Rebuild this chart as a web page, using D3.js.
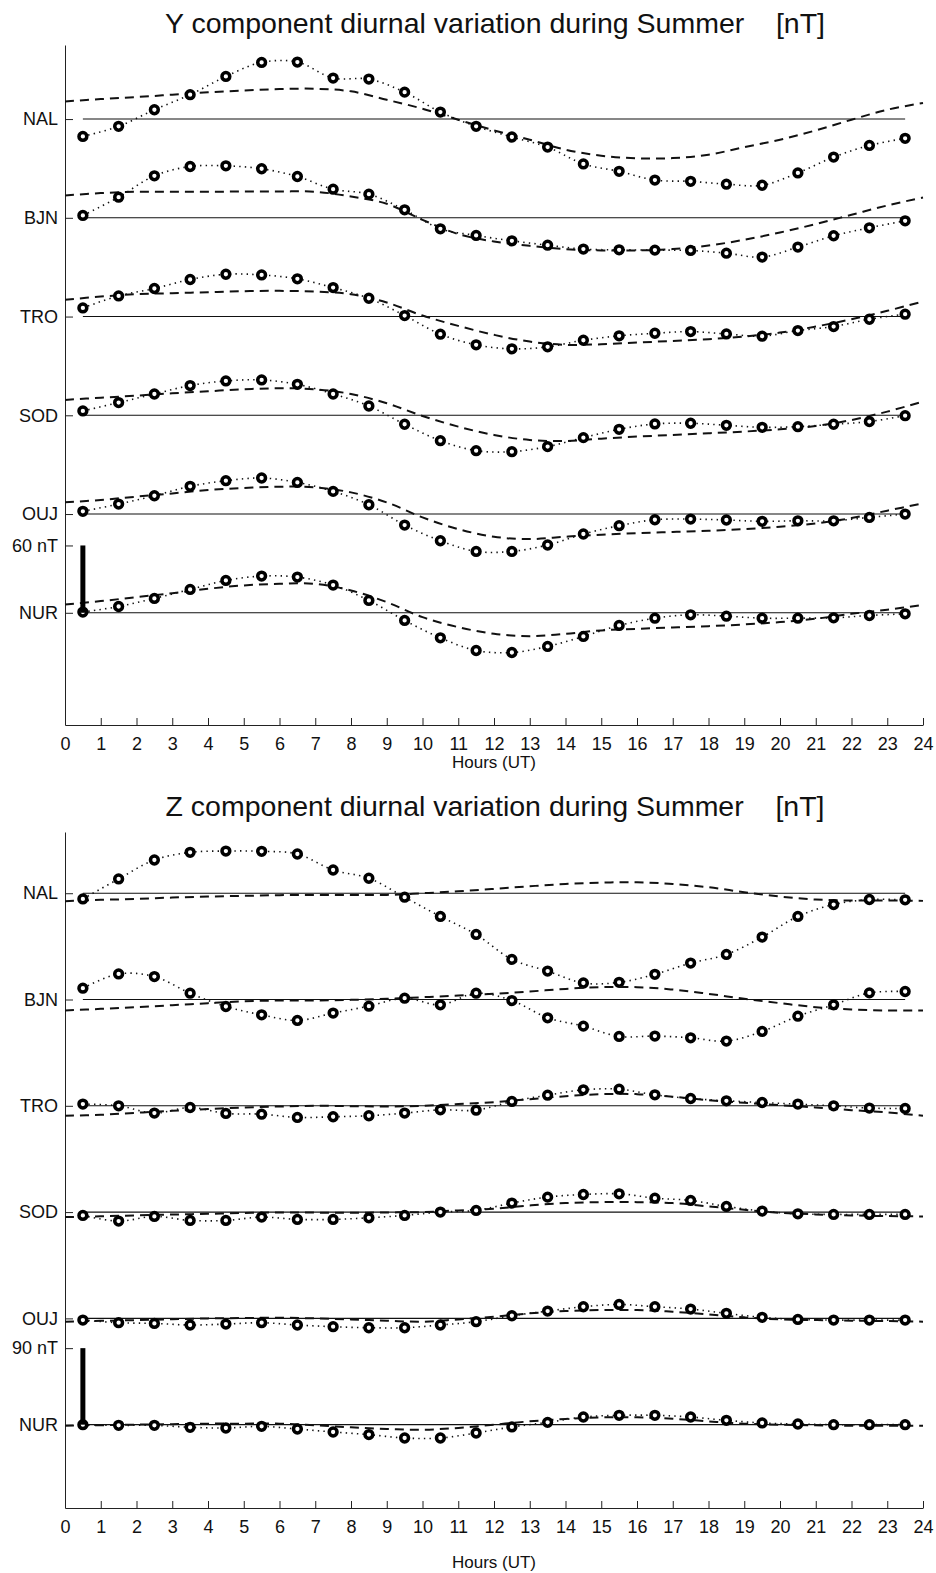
<!DOCTYPE html>
<html>
<head>
<meta charset="utf-8">
<script src="https://cdn.jsdelivr.net/npm/d3@7"></script>
<style>
  html, body { margin: 0; padding: 0; background: #fff; }
  svg { display: block; }
  text { font-family: "Liberation Sans", Arial, Helvetica, sans-serif; fill: #111; }
</style>
</head>
<body>
<svg id="chart" width="936" height="1573"></svg>
<script>
// Stations, top (northernmost) to bottom
const stations = ["NAL", "BJN", "TRO", "SOD", "OUJ", "NUR"];

// Hourly means at the middle of each UT hour
const obsHours = [0.5, 1.5, 2.5, 3.5, 4.5, 5.5, 6.5, 7.5, 8.5, 9.5, 10.5, 11.5,
                  12.5, 13.5, 14.5, 15.5, 16.5, 17.5, 18.5, 19.5, 20.5, 21.5, 22.5, 23.5];
// Model curve sampled on the full hours
const fitHours = [0, 1, 2, 3, 4, 5, 6, 7, 8, 9, 10, 11, 12,
                  13, 14, 15, 16, 17, 18, 19, 20, 21, 22, 23, 24];
const hourTicks = [0, 1, 2, 3, 4, 5, 6, 7, 8, 9, 10, 11, 12,
                   13, 14, 15, 16, 17, 18, 19, 20, 21, 22, 23, 24];

// ---- Y component [nT] ----
const yObsNAL = [-15.5, -6.5, 8.3, 21.7, 38.0, 50.5, 50.8, 36.5, 35.6, 24.0, 6.2, -6.5, -16.0, -25.0, -40.0, -46.6, -54.4, -55.5, -58.0, -59.0, -48.0, -33.9, -23.5, -17.2];
const yObsBJN = [2.1, 18.4, 37.4, 45.7, 46.3, 43.7, 36.8, 25.5, 21.1, 7.1, -9.8, -15.7, -20.5, -24.4, -27.9, -28.5, -28.8, -29.1, -31.5, -35.0, -26.1, -16.0, -8.9, -2.7];
const yObsTRO = [7.7, 18.4, 25.0, 33.0, 37.7, 37.1, 33.6, 25.8, 16.3, 0.9, -15.7, -25.2, -28.8, -27.0, -21.1, -17.2, -14.9, -13.4, -15.5, -17.5, -12.5, -8.9, -2.4, 2.1];
const yObsSOD = [3.9, 11.3, 19.0, 26.5, 30.6, 31.5, 27.6, 19.0, 8.3, -8.0, -22.6, -31.5, -32.4, -27.9, -19.9, -12.5, -7.7, -7.1, -8.9, -10.7, -10.1, -8.0, -5.6, -0.3];
const yObsOUJ = [2.4, 8.9, 16.3, 24.7, 29.7, 32.1, 28.2, 20.2, 8.3, -9.8, -23.8, -33.3, -33.3, -27.6, -17.8, -10.4, -5.1, -4.5, -5.3, -6.5, -6.0, -6.0, -3.0, 0.0];
const yObsNUR = [0.6, 5.6, 12.8, 20.8, 28.8, 32.7, 31.8, 24.7, 11.0, -6.8, -22.3, -33.6, -35.4, -30.0, -21.1, -11.3, -4.8, -1.8, -3.0, -4.8, -4.8, -4.5, -2.4, -0.9];

const yFitNAL = [15.7, 17.8, 19.6, 21.7, 23.8, 25.5, 26.7, 27.0, 24.7, 17.2, 9.2, -0.6, -10.1, -18.4, -27.3, -32.7, -35.0, -34.8, -31.8, -25.0, -18.4, -10.1, -0.6, 8.3, 14.3];
const yFitBJN = [19.9, 22.0, 23.2, 23.2, 23.2, 23.5, 23.5, 23.2, 19.0, 12.5, -1.8, -14.5, -21.1, -25.0, -27.9, -29.1, -29.1, -27.9, -24.7, -19.6, -13.1, -5.6, 2.7, 11.0, 18.1];
const yFitTRO = [14.9, 17.8, 19.9, 20.8, 21.7, 22.6, 22.9, 22.3, 19.9, 12.5, 0.9, -8.3, -16.3, -22.3, -25.2, -24.7, -23.2, -21.7, -20.2, -17.8, -14.3, -8.9, -2.4, 5.1, 13.4];
const yFitSOD = [13.7, 15.7, 17.5, 19.6, 21.4, 23.2, 24.1, 23.2, 19.0, 10.7, -0.6, -10.1, -17.5, -22.0, -22.9, -20.8, -19.0, -17.5, -16.0, -14.5, -12.5, -9.5, -4.2, 3.3, 12.2];
const yFitOUJ = [10.4, 12.5, 15.5, 18.4, 21.4, 23.2, 24.4, 23.8, 19.3, 10.4, -3.0, -13.4, -20.2, -22.3, -20.2, -18.4, -17.0, -16.0, -14.9, -13.4, -11.3, -8.3, -3.6, 3.0, 9.5];
const yFitNUR = [7.4, 10.4, 14.0, 17.5, 21.4, 24.4, 25.8, 25.8, 19.9, 9.5, -3.9, -12.8, -18.7, -20.8, -18.7, -15.7, -14.3, -13.1, -11.9, -10.4, -8.3, -5.3, -0.9, 2.7, 7.1];

// ---- Z component [nT] ----
const zObsNAL = [-6.7, 16.8, 39.1, 48.1, 49.6, 49.3, 46.1, 27.3, 17.6, -4.7, -27.3, -48.5, -77.8, -91.5, -105.6, -104.8, -95.4, -82.2, -72.0, -51.6, -27.3, -13.3, -7.4, -7.8];
const zObsBJN = [13.3, 30.1, 27.0, 7.4, -8.2, -18.0, -24.6, -16.0, -7.8, 1.6, -6.3, 7.4, -1.2, -21.5, -31.3, -43.4, -43.0, -45.0, -48.9, -37.5, -19.6, -6.3, 7.8, 9.4];
const zObsTRO = [2.0, 0.0, -8.6, -2.0, -9.0, -9.8, -13.7, -12.9, -11.7, -8.6, -4.7, -5.1, 5.1, 12.5, 18.8, 19.6, 12.9, 8.6, 5.9, 3.9, 2.0, 0.0, -2.7, -3.1];
const zObsSOD = [-3.9, -10.6, -5.1, -9.8, -9.8, -5.9, -8.6, -8.6, -6.7, -3.9, 0.0, 2.0, 10.6, 17.6, 20.7, 21.5, 16.4, 13.7, 6.7, 1.2, -2.0, -2.7, -2.7, -2.7];
const zObsOUJ = [-2.0, -5.1, -5.9, -7.8, -6.7, -5.1, -7.8, -9.8, -11.0, -11.0, -7.8, -3.9, 3.1, 8.6, 13.7, 16.4, 13.7, 11.0, 5.9, 1.2, -1.2, -2.0, -2.0, -2.0];
const zObsNUR = [0.0, -0.8, -0.8, -3.1, -3.9, -2.0, -5.1, -8.6, -11.7, -15.7, -15.7, -9.8, -2.7, 2.7, 9.0, 11.0, 11.0, 9.0, 5.1, 2.0, 0.8, 0.0, 0.0, 0.0];

const zFitNAL = [-9.4, -7.8, -6.7, -5.1, -3.9, -3.1, -2.3, -2.0, -2.0, -2.0, 0.0, 2.3, 5.1, 8.2, 10.9, 12.5, 12.9, 10.9, 7.0, 1.2, -3.9, -7.4, -8.6, -8.6, -9.0];
const zFitBJN = [-12.9, -11.0, -9.0, -6.7, -4.3, -2.0, -1.2, -1.2, -0.4, 0.8, 2.7, 4.7, 6.7, 9.4, 12.5, 14.5, 14.5, 11.7, 6.7, 0.8, -4.3, -9.0, -11.7, -12.9, -12.9];
const zFitTRO = [-11.7, -10.6, -8.2, -5.9, -3.9, -2.0, -0.8, 0.0, -0.4, -0.8, 0.0, 2.0, 4.3, 7.8, 11.3, 13.7, 13.7, 10.6, 6.7, 3.5, 0.8, -2.0, -5.1, -7.8, -11.7];
const zFitSOD = [-5.9, -4.9, -3.9, -2.9, -2.0, -1.0, -0.4, -0.6, -0.8, -0.4, 0.0, 2.0, 3.9, 7.8, 10.6, 11.7, 11.7, 10.6, 6.7, 2.7, -0.8, -2.7, -3.9, -4.7, -5.1];
const zFitOUJ = [-3.9, -2.9, -2.0, -1.0, 0.0, 0.4, 0.8, 0.0, -1.2, -2.7, -3.9, -1.2, 2.0, 5.9, 8.6, 9.8, 9.8, 7.8, 4.7, 1.2, -1.2, -2.0, -2.7, -3.1, -3.9];
const zFitNUR = [-1.2, -0.6, 0.0, 0.6, 1.2, 1.2, 1.2, -0.8, -3.1, -5.1, -5.9, -3.9, 0.0, 3.9, 6.7, 8.6, 8.6, 7.0, 3.9, 1.2, 0.0, -0.8, -1.2, -1.2, -1.2];

// Vertical spacing between station baselines [nT] and size of the scale bar [nT]
const ySpacing = 88, yBar = 60;
const zSpacing = 125, zBar = 90;

const svg = d3.select("#chart");
svg.append("rect").attr("width", 936).attr("height", 1573).attr("fill", "#fff");

function drawPanel(p) {
  const g = svg.append("g");
  const x = d3.scaleLinear().domain([0, 24]).range([65, 923]);
  const y = d3.scaleLinear().domain(p.domain).range(p.yRange);
  const offset = i => (stations.length - 1 - i) * p.spacing;

  // title
  g.append("text")
    .attr("x", 495).attr("y", p.titleY)
    .attr("text-anchor", "middle")
    .style("font-size", "28.5px")
    .style("white-space", "pre")
    .text(p.title);

  // x axis (ticks point inward)
  const xAxis = g.append("g")
    .attr("transform", `translate(0,${p.yRange[0]})`)
    .call(d3.axisBottom(x).tickValues(hourTicks).tickFormat(d3.format("d"))
      .tickSizeInner(-7).tickSizeOuter(0).tickPadding(12));
  xAxis.selectAll("text").style("font-size", "18px").attr("fill", "#111");
  xAxis.selectAll("line, path").attr("stroke", "#222");

  g.append("text")
    .attr("x", 494).attr("y", p.xLabelY)
    .attr("text-anchor", "middle")
    .style("font-size", "17px")
    .text("Hours (UT)");

  // y axis: station baselines plus the scale-bar level
  const yTicks = stations.map((s, i) => offset(i)).concat([p.bar]);
  const yLabels = new Map(stations.map((s, i) => [offset(i), s]));
  yLabels.set(p.bar, p.bar + " nT");
  const yAxis = g.append("g")
    .attr("transform", "translate(65,0)")
    .call(d3.axisLeft(y).tickValues(yTicks).tickFormat(d => yLabels.get(d))
      .tickSizeInner(-8).tickSizeOuter(0).tickPadding(7));
  yAxis.selectAll("text").style("font-size", "18px").attr("fill", "#111");
  yAxis.selectAll("line, path").attr("stroke", "#222");

  const obsLine = d3.line().x(d => x(d[0])).y(d => y(d[1])).curve(d3.curveCatmullRom);
  const fitLine = d3.line().x(d => x(d[0])).y(d => y(d[1])).curve(d3.curveCatmullRom);

  stations.forEach((s, i) => {
    const off = offset(i);
    const obs = p.obs[i].map((v, k) => [obsHours[k], v + off]);
    const fit = p.fit[i].map((v, k) => [fitHours[k], v + off]);

    // zero baseline
    g.append("line")
      .attr("x1", x(obsHours[0])).attr("x2", x(obsHours[obsHours.length - 1]))
      .attr("y1", y(off)).attr("y2", y(off))
      .attr("stroke", "#111").attr("stroke-width", 1.1);

    // model curve
    g.append("path").datum(fit)
      .attr("d", fitLine)
      .attr("fill", "none").attr("stroke", "#111")
      .attr("stroke-width", 2).attr("stroke-dasharray", "9,6");

    // dotted line through hourly means
    g.append("path").datum(obs)
      .attr("d", obsLine)
      .attr("fill", "none").attr("stroke", "#111")
      .attr("stroke-width", 1.6).attr("stroke-dasharray", "1.4,4.2");

    // hourly means
    g.append("g").selectAll("circle").data(obs).join("circle")
      .attr("cx", d => x(d[0])).attr("cy", d => y(d[1]))
      .attr("r", 3.9)
      .attr("fill", "#fff").attr("stroke", "#000").attr("stroke-width", 3.5);
  });

  // scale bar on the lowest station
  g.append("line")
    .attr("x1", x(obsHours[0])).attr("x2", x(obsHours[0]))
    .attr("y1", y(0)).attr("y2", y(p.bar))
    .attr("stroke", "#000").attr("stroke-width", 5);
}

drawPanel({
  title: "Y component diurnal variation during Summer    [nT]",
  titleY: 33, xLabelY: 768,
  domain: [-100, 506], yRange: [725, 45],
  spacing: ySpacing, bar: yBar,
  obs: [yObsNAL, yObsBJN, yObsTRO, yObsSOD, yObsOUJ, yObsNUR],
  fit: [yFitNAL, yFitBJN, yFitTRO, yFitSOD, yFitOUJ, yFitNUR]
});

drawPanel({
  title: "Z component diurnal variation during Summer    [nT]",
  titleY: 816, xLabelY: 1568,
  domain: [-98, 697], yRange: [1508, 832],
  spacing: zSpacing, bar: zBar,
  obs: [zObsNAL, zObsBJN, zObsTRO, zObsSOD, zObsOUJ, zObsNUR],
  fit: [zFitNAL, zFitBJN, zFitTRO, zFitSOD, zFitOUJ, zFitNUR]
});
</script>
</body>
</html>
